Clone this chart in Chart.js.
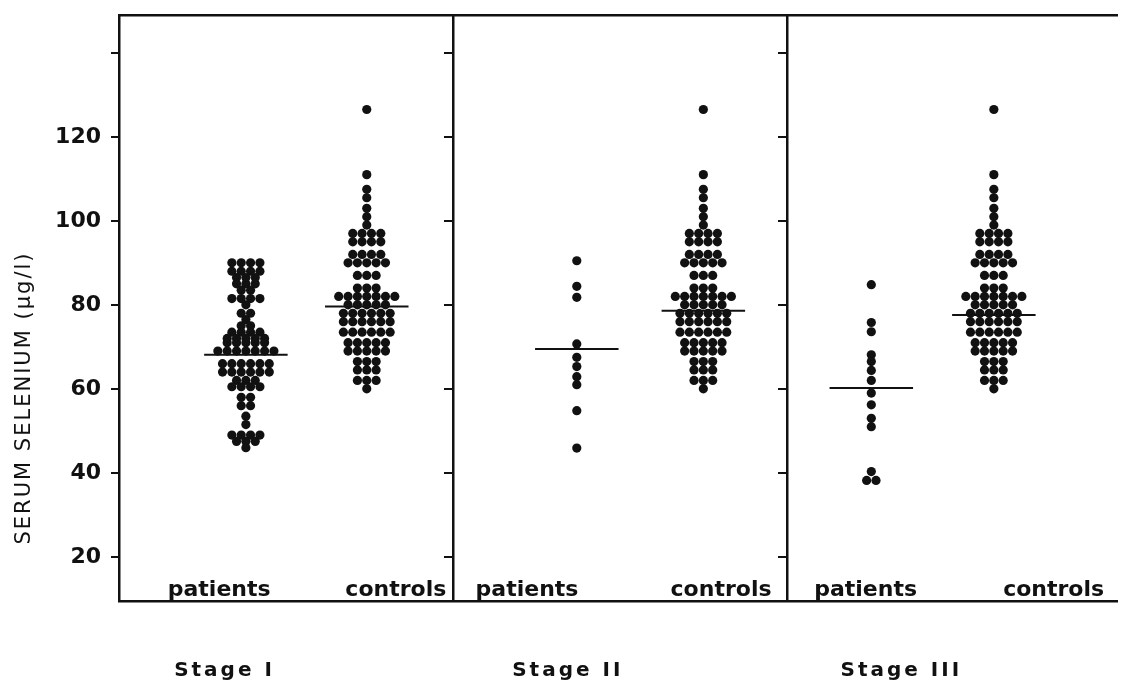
<!DOCTYPE html>
<html>
<head>
<meta charset="utf-8">
<title>Serum selenium</title>
<script src="https://cdn.jsdelivr.net/npm/chart.js@4.4.0/dist/chart.umd.min.js"></script>
<style>
    html, body { margin: 0; padding: 0; background: #fff; overflow: hidden; }
    #wrap { width: 1122px; height: 683px; position: relative; }
</style>
</head>
<body>
<div id="wrap"><canvas id="myChart"></canvas></div>
<script>
//-----------Data-----------
var groupLabels = ["patients", "controls", "patients", "controls", "patients", "controls"];
var stageLabels = ["Stage I", "Stage II", "Stage III"];
var yTicks = [20, 40, 60, 80, 100, 120];

// serum selenium, ug/l, one value per dot
var stage1Patients = [90, 90, 90, 90, 88, 88, 88, 88, 86.5, 86.5, 86.5, 85, 85, 85, 83.5, 83.5,
    81.5, 81.5, 81.5, 81.5, 80, 78, 78, 76.5, 75, 75, 73.5, 73.5, 73.5, 73.5,
    72, 72, 72, 72, 72, 71, 71, 71, 71, 71, 69, 69, 69, 69, 69, 69, 69,
    66, 66, 66, 66, 66, 66, 64, 64, 64, 64, 64, 64, 62, 62, 62, 60.5, 60.5, 60.5, 60.5,
    58, 58, 56, 56, 53.5, 51.5, 49, 49, 49, 49, 47.5, 47.5, 47.5, 46];
var stage2Patients = [90.5, 84.4, 81.8, 70.7, 67.5, 65.3, 62.9, 61, 54.8, 45.9];
var stage3Patients = [84.8, 75.8, 73.6, 68.1, 66.5, 64.4, 62, 59, 56.2, 53, 51, 40.3, 38.2, 38.2];
var controls = [126.5, 111, 107.5, 105.5, 103, 101, 99, 97, 97, 97, 97, 95, 95, 95, 95,
    92, 92, 92, 92, 90, 90, 90, 90, 90, 87, 87, 87, 84, 84, 84,
    82, 82, 82, 82, 82, 82, 82, 80, 80, 80, 80, 80, 78, 78, 78, 78, 78, 78,
    76, 76, 76, 76, 76, 76, 73.5, 73.5, 73.5, 73.5, 73.5, 73.5, 71, 71, 71, 71, 71,
    69, 69, 69, 69, 69, 66.5, 66.5, 66.5, 64.5, 64.5, 64.5, 62, 62, 62, 60];
var groupMeans = [68.1, 79.6, 69.5, 78.6, 60.2, 77.6];

var groupValues = [stage1Patients, controls, stage2Patients, controls, stage3Patients, controls];

//-----------Layout (x in panel units: each stage = 1)-----------
var groupPos = [0.38, 0.742, 1.371, 1.75, 2.253, 2.62];
var labelPos = [0.30, 0.829, 1.222, 1.803, 2.236, 2.799];
var stagePos = [0.316, 1.344, 2.343];
var dotStep = 0.028;   // horizontal distance between dots in a row
var meanHalf = 0.125;  // half length of the mean bar

// dots with equal value are put side by side in a row
function buildDots(values, center) {
    var counts = {}, seen = {}, pts = [];
    values.forEach(function (v) { counts[v] = (counts[v] || 0) + 1; });
    values.forEach(function (v) {
        var i = seen[v] || 0;
        seen[v] = i + 1;
        pts.push({x: center + (i - (counts[v] - 1) / 2) * dotStep, y: v});
    });
    return pts;
}

var datasets = [];
groupValues.forEach(function (vals, g) {
    datasets.push({
        data: buildDots(vals, groupPos[g]),
        pointRadius: 4.6,
        pointBackgroundColor: '#111',
        pointBorderWidth: 0,
        showLine: false
    });
    datasets.push({
        data: [{x: groupPos[g] - meanHalf, y: groupMeans[g]}, {x: groupPos[g] + meanHalf, y: groupMeans[g]}],
        showLine: true,
        borderColor: '#111',
        borderWidth: 2,
        pointRadius: 0
    });
});

//-----------Texts inside and under the frame-----------
var textPlugin = {
    id: 'texts',
    afterDraw: function (chart) {
        var ctx = chart.ctx, xs = chart.scales.x, area = chart.chartArea;
        ctx.save();
        ctx.fillStyle = '#111';
        ctx.textAlign = 'center';
        ctx.textBaseline = 'alphabetic';
        ctx.font = 'bold 22px "DejaVu Sans"';
        groupLabels.forEach(function (t, i) {
            ctx.fillText(t, xs.getPixelForValue(labelPos[i]), area.bottom - 5);
        });
        ctx.font = 'bold 20px "DejaVu Sans"';
        ctx.letterSpacing = '3px';
        stageLabels.forEach(function (t, i) {
            ctx.fillText(t, xs.getPixelForValue(stagePos[i]), 676);
        });
        // y title
        ctx.font = '21px "DejaVu Sans"';
        ctx.letterSpacing = '2px';
        ctx.translate(30, 398);
        ctx.rotate(-Math.PI / 2);
        ctx.fillText('SERUM SELENIUM (\u00b5g/l)', 0, 0);
        ctx.restore();
    }
};

function frameAxis(pos) {
    return {
        type: 'linear',
        position: pos,
        min: 9.5,
        max: 149,
        ticks: {display: false, stepSize: 20, includeBounds: false},
        grid: {drawOnChartArea: false, drawTicks: true, tickLength: 8, color: '#111', lineWidth: 2},
        border: {display: true, color: '#111', width: 2.5}
    };
}

var y2 = frameAxis({x: 1});
var y3 = frameAxis({x: 2});

var ctx = document.getElementById("myChart").getContext('2d');
var myChart = new Chart(ctx, {
    type: 'scatter',
    data: {datasets: datasets},
    plugins: [textPlugin],
    options: {
        responsive: true,
        maintainAspectRatio: false,
        animation: false,
        events: [],
        layout: {padding: 0},
        plugins: {legend: {display: false}, tooltip: {enabled: false}},
        scales: {
            x: {
                type: 'linear',
                position: 'bottom',
                min: 0,
                max: 2.99,
                ticks: {display: false},
                grid: {display: false},
                border: {display: true, color: '#111', width: 2.5},
                afterFit: function (s) { s.height = 82; s.paddingLeft = 0; s.paddingRight = 0; }
            },
            xTop: {
                type: 'linear',
                position: 'top',
                min: 0,
                max: 2.99,
                ticks: {display: false},
                grid: {display: false},
                border: {display: true, color: '#111', width: 2.5},
                afterFit: function (s) { s.height = 15; s.paddingLeft = 0; s.paddingRight = 0; }
            },
            y: {
                type: 'linear',
                position: 'left',
                min: 9.5,
                max: 149,
                ticks: {
                    stepSize: 20,
                    includeBounds: false,
                    padding: 10,
                    color: '#111',
                    font: {family: 'DejaVu Sans', size: 22, weight: 'bold'},
                    callback: function (v) { return yTicks.indexOf(v) >= 0 ? String(v) : ''; }
                },
                grid: {drawOnChartArea: false, drawTicks: true, tickLength: 8, color: '#111', lineWidth: 2},
                border: {display: true, color: '#111', width: 2.5},
                afterFit: function (s) { s.width = 119; s.paddingTop = 0; s.paddingBottom = 0; }
            },
            y2: y2,
            y3: y3
        }
    }
});
</script>
</body>
</html>
